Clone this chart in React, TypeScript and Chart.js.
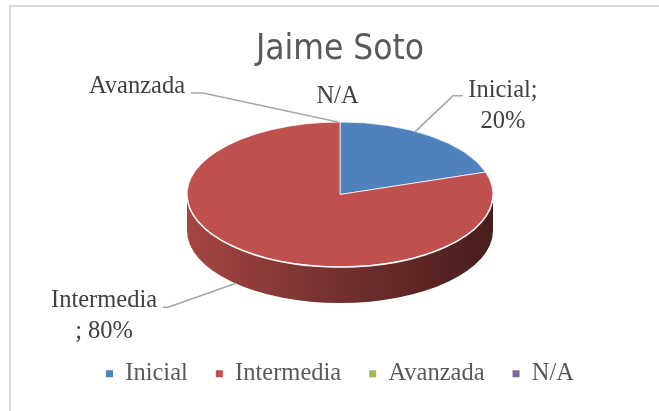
import React, { useEffect, useRef } from 'react';
import { Chart, registerables } from 'chart.js';

Chart.register(...registerables);

// ---- data ----
const chartTitle = 'Jaime Soto';
const categories = ['Inicial', 'Intermedia', 'Avanzada', 'N/A'];
const values = [20, 80, 0, 0];

// ---- style ----
const sliceColors = ['#4f81bd', '#c0504d', '#9bbb59', '#8064a2'];
const labelFont = '24.5px "Liberation Serif", "Times New Roman", serif';

// callout placement (offsets from each slice's rim anchor)
const calloutLayout = [
  { line: [[-15, -4], [23, -40], [33, -40]], text: [73, -39], align: 'center', wrap: 'after' },
  { line: [[-14, 30], [-82, 54], [-87, 54]], text: [-146, 54], align: 'center', wrap: 'before' },
  { line: [[-2, 0], [-137, -29], [-149, -29]], text: [-155, -29], align: 'right', wrap: 'none' },
  { line: [], text: [-2.5, -19], align: 'center', wrap: 'none' },
];

function shade(hex: string, f: number) {
  const n = parseInt(hex.slice(1), 16);
  const r = Math.round(((n >> 16) & 255) * f);
  const g = Math.round(((n >> 8) & 255) * f);
  const b = Math.round((n & 255) * f);
  return `rgb(${r},${g},${b})`;
}

const framePlugin = {
  id: 'frame',
  beforeDraw(chart: any) {
    const ctx = chart.ctx;
    ctx.save();
    ctx.fillStyle = '#ffffff';
    ctx.fillRect(0, 0, chart.width, chart.height);
    ctx.strokeStyle = '#d9d9d9';
    ctx.lineWidth = 2;
    ctx.strokeRect(10, 6, chart.width + 20, chart.height + 20);
    ctx.restore();
  },
};

const pie3dPlugin = {
  id: 'pie3d',
  beforeDatasetsDraw(chart: any, _args: any, opts: any) {
    const meta = chart.getDatasetMeta(0);
    const ctx = chart.ctx;
    const el0: any = meta.data[0];
    const cx = el0.x, cy = el0.y, r = el0.outerRadius;
    const ry = r * opts.tilt;
    const depth = opts.depth;
    meta.data.forEach((el: any, i: number) => {
      const s = el.startAngle, e = el.endAngle;
      if (e - s <= 0) return;
      const base = sliceColors[i];
      for (const b of [-2 * Math.PI, 0, 2 * Math.PI]) {
        const a1 = Math.max(s, b);
        const a2 = Math.min(e, b + Math.PI);
        if (a2 <= a1) continue;
        const grad = ctx.createLinearGradient(cx - r, 0, cx + r, 0);
        grad.addColorStop(0, shade(base, 0.86));
        grad.addColorStop(0.5, shade(base, 0.6));
        grad.addColorStop(1, shade(base, 0.37));
        ctx.save();
        ctx.beginPath();
        ctx.ellipse(cx, cy, r, ry, 0, a1, a2, false);
        ctx.ellipse(cx, cy + depth, r, ry, 0, a2, a1, true);
        ctx.closePath();
        ctx.fillStyle = grad;
        ctx.fill();
        ctx.restore();
      }
    });
    ctx.save();
    ctx.translate(cx, cy);
    ctx.scale(1, opts.tilt);
    ctx.translate(-cx, -cy);
  },
  afterDatasetsDraw(chart: any, _args: any, opts: any) {
    const ctx = chart.ctx;
    ctx.restore();
    const el0: any = chart.getDatasetMeta(0).data[0];
    const cx = el0.x, cy = el0.y, r = el0.outerRadius;
    ctx.save();
    ctx.beginPath();
    ctx.ellipse(cx, cy, r, r * opts.tilt, 0, 0.02, Math.PI - 0.02, false);
    ctx.strokeStyle = 'rgba(255,255,255,0.95)';
    ctx.lineWidth = 1.5;
    ctx.stroke();
    ctx.restore();
  },
};

const calloutPlugin = {
  id: 'callouts',
  afterDraw(chart: any, _args: any, opts: any) {
    const meta = chart.getDatasetMeta(0);
    const ctx = chart.ctx;
    const data = chart.data.datasets[0].data as number[];
    const total = data.reduce((a, b) => a + b, 0);
    meta.data.forEach((el: any, i: number) => {
      const cfg = calloutLayout[i];
      const mid = (el.startAngle + el.endAngle) / 2;
      const ax = el.x + el.outerRadius * Math.cos(mid);
      const ay = el.y + el.outerRadius * opts.tilt * Math.sin(mid);
      ctx.save();
      if (cfg.line.length) {
        ctx.beginPath();
        cfg.line.forEach((p: number[], k: number) => {
          if (k === 0) ctx.moveTo(ax + p[0], ay + p[1]);
          else ctx.lineTo(ax + p[0], ay + p[1]);
        });
        ctx.strokeStyle = '#a6a6a6';
        ctx.lineWidth = 1.5;
        ctx.stroke();
      }
      const name = chart.data.labels[i];
      const v = data[i];
      const pct = Math.round((v / total) * 100) + '%';
      let lines: string[];
      if (v > 0 && cfg.wrap === 'after') lines = [name + ';', pct];
      else if (v > 0 && cfg.wrap === 'before') lines = [name, '; ' + pct];
      else if (v > 0) lines = [name + '; ' + pct];
      else lines = [name];
      ctx.font = labelFont;
      ctx.fillStyle = '#404040';
      ctx.textAlign = cfg.align;
      ctx.textBaseline = 'alphabetic';
      lines.forEach((t, k) => {
        ctx.fillText(t, ax + cfg.text[0], ay + cfg.text[1] + k * 31);
      });
      ctx.restore();
    });
  },
};

export default function App() {
  const ref = useRef<HTMLCanvasElement | null>(null);
  useEffect(() => {
    document.body.style.margin = '0';
    const canvas = ref.current;
    if (!canvas) return;
    const chart = new Chart(canvas, {
      type: 'pie',
      data: {
        labels: categories,
        datasets: [
          {
            data: values,
            backgroundColor: sliceColors,
            borderColor: '#ffffff',
            borderWidth: 1,
            radius: 153,
            clip: false,
          } as any,
        ],
      },
      plugins: [framePlugin, pie3dPlugin, calloutPlugin],
      options: {
        responsive: false,
        animation: false,
        events: [],
        layout: { padding: { left: 21, right: 0, top: 0, bottom: 15 } },
        plugins: {
          tooltip: { enabled: false },
          title: {
            display: true,
            text: chartTitle,
            color: '#595959',
            font: {
              family: "'Liberation Sans Narrow', 'DejaVu Sans Condensed', sans-serif",
              size: 35,
              weight: 'normal',
              lineHeight: 1.2,
            },
            padding: { top: 29, bottom: -15.45 },
          },
          legend: {
            display: true,
            position: 'bottom',
            labels: {
              boxWidth: 7,
              boxHeight: 7,
              padding: 28,
              color: '#595959',
              font: { family: '"Liberation Serif", "Times New Roman", serif', size: 24.5 },
              generateLabels: (c: any) =>
                (Chart as any).overrides.pie.plugins.legend.labels
                  .generateLabels(c)
                  .map((l: any) => ({ ...l, lineWidth: 0 })),
            },
          },
          pie3d: { tilt: 72.5 / 153, depth: 36 },
          callouts: { tilt: 72.5 / 153 },
        } as any,
      },
    });
    return () => chart.destroy();
  }, []);
  return <canvas ref={ref} width={659} height={411} style={{ display: 'block' }} />;
}
